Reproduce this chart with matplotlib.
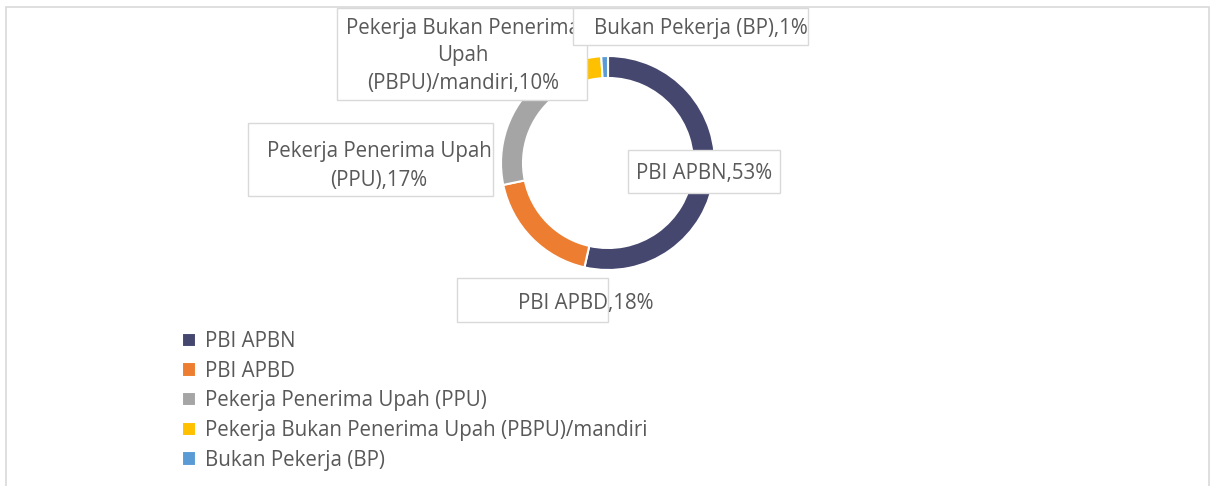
import matplotlib.pyplot as plt
from matplotlib.patches import Rectangle

# data
categories = ['PBI APBN', 'PBI APBD', 'Pekerja Penerima Upah (PPU)',
              'Pekerja Bukan Penerima Upah (PBPU)/mandiri', 'Bukan Pekerja (BP)']
shares = [53, 18, 17, 10, 1]
label_texts = ['PBI APBN,53%', 'PBI APBD,18%', 'Pekerja Penerima Upah\n(PPU),17%',
               'Pekerja Bukan Penerima\nUpah\n(PBPU)/mandiri,10%', 'Bukan Pekerja (BP),1%']
colors = ['#45476F', '#ED7D31', '#A5A5A5', '#FFC000', '#5B9BD5']

W, H = 1215, 486
plt.rcParams['font.family'] = ['Open Sans', 'DejaVu Sans']
txt_color = '#595959'
fs = 14.8

fig = plt.figure(figsize=(W / 100, H / 100), dpi=100)
ax = fig.add_axes([0, 0, 1, 1])

wedges, _ = ax.pie(shares, colors=colors, startangle=90, counterclock=False,
                   center=(608, H - 163), radius=107,
                   wedgeprops=dict(width=22, edgecolor='white', linewidth=1.5))
ax.set_xlim(0, W)
ax.set_ylim(0, H)
ax.set_aspect('equal')
ax.axis('off')

# outer frame
ax.add_patch(Rectangle((6, -20), 1203, H - 7 + 20, fill=False, ec='#D9D9D9', lw=1.2))

# data label boxes: (x0, top, x1, bottom) and text centre, pixel coords
boxes = [(628, 150, 780, 193), (457, 278, 608, 322), (248, 123, 493, 196),
         (337, 8, 587, 100), (573, 8, 808, 45)]
centres = [(704, 174), (586, 303), (379, 166), (463, 56), (701, 29)]
spacing = [1.4, 1.4, 1.55, 1.38, 1.4]
for i, (b, c) in enumerate(zip(boxes, centres)):
    z = 5 + 2 * i
    ax.add_patch(Rectangle((b[0], H - b[3]), b[2] - b[0], b[3] - b[1],
                           fc='white', ec='#D9D9D9', lw=1, zorder=z))
    ax.text(c[0], H - c[1], label_texts[i], ha='center', va='center',
            color=txt_color, fontsize=fs, linespacing=spacing[i], zorder=z + 1)

ax.legend(wedges, categories, loc='upper left', bbox_to_anchor=(182 / W, 1 - 331 / H),
          frameon=False, fontsize=fs, labelcolor=txt_color, handlelength=0.7,
          handleheight=0.7, handletextpad=0.4, labelspacing=0.42, borderpad=0,
          borderaxespad=0)

fig.savefig('out.png', dpi=100)
